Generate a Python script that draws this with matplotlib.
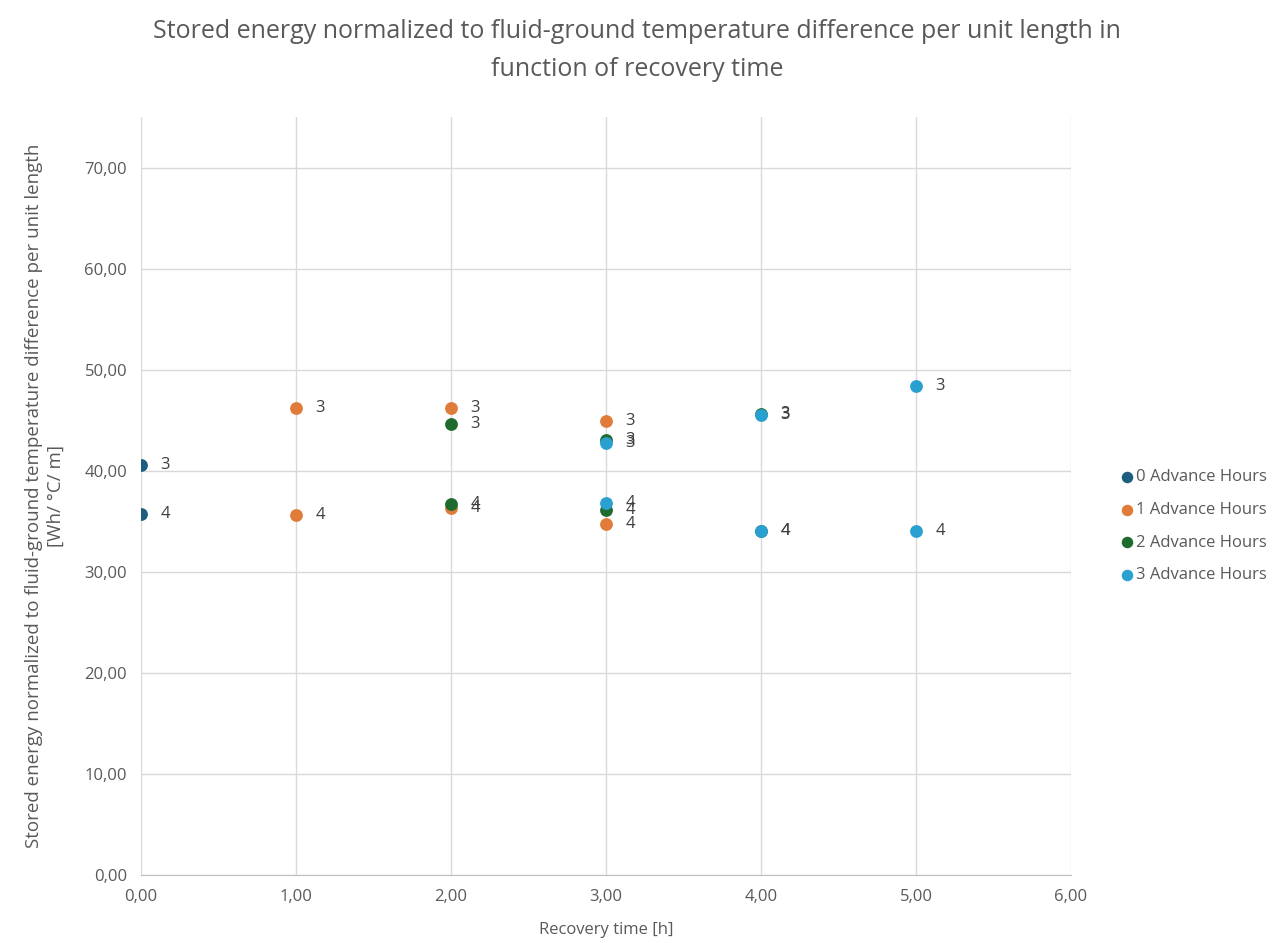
import matplotlib
matplotlib.use("Agg")
import matplotlib.pyplot as plt
from matplotlib.ticker import FuncFormatter

plt.rcParams["font.family"] = ["Open Sans", "DejaVu Sans"]

# Series: recovery time [h] and stored energy [Wh/°C/m], with point labels
series_names = ["0 Advance Hours", "1 Advance Hours", "2 Advance Hours", "3 Advance Hours"]
series_colors = ["#1d5d80", "#e07b39", "#1e6b2e", "#2aa0d0"]

x_adv0 = [0, 0]
y_adv0 = [40.6, 35.7]
lbl_adv0 = ["3", "4"]

x_adv1 = [1, 1, 2, 2, 3, 3]
y_adv1 = [46.2, 35.6, 46.2, 36.3, 44.9, 34.7]
lbl_adv1 = ["3", "4", "3", "4", "3", "4"]

x_adv2 = [2, 2, 3, 3, 4, 4]
y_adv2 = [44.6, 36.7, 43.0, 36.1, 45.6, 34.0]
lbl_adv2 = ["3", "4", "3", "4", "3", "4"]

x_adv3 = [3, 3, 4, 4, 5, 5]
y_adv3 = [42.7, 36.8, 45.5, 34.0, 48.4, 34.0]
lbl_adv3 = ["3", "4", "3", "4", "3", "4"]

xs = [x_adv0, x_adv1, x_adv2, x_adv3]
ys = [y_adv0, y_adv1, y_adv2, y_adv3]
labels = [lbl_adv0, lbl_adv1, lbl_adv2, lbl_adv3]

fig = plt.figure(figsize=(12.74, 9.43), dpi=100)
ax = fig.add_axes([141 / 1274, 1 - 875 / 943, (1071 - 141) / 1274, (875 - 117) / 943])

for name, color, x, y, lbls in zip(series_names, series_colors, xs, ys, labels):
    ax.scatter(x, y, s=85, color=color, label=name, zorder=3, linewidths=0)
    for xi, yi, t in zip(x, y, lbls):
        ax.annotate(t, (xi, yi), xytext=(14, 0), textcoords="offset points",
                    va="center", ha="left", fontsize=12, color="#404040", zorder=4)

ax.set_xlim(0, 6)
ax.set_ylim(0, 75)
ax.set_xticks(range(0, 7))
ax.set_yticks(range(0, 80, 10))
fmt = FuncFormatter(lambda v, _: f"{v:.2f}".replace(".", ","))
ax.xaxis.set_major_formatter(fmt)
ax.yaxis.set_major_formatter(fmt)
ax.tick_params(length=0, labelsize=12, labelcolor="#595959", pad=10)
ax.grid(True, color="#d9d9d9", linewidth=1)
ax.set_axisbelow(True)
for side in ["top", "right", "left"]:
    ax.spines[side].set_visible(False)
ax.spines["bottom"].set_color("#bfbfbf")

ax.set_xlabel("Recovery time [h]", fontsize=12, color="#595959", labelpad=12)
ax.set_ylabel("Stored energy normalized to fluid-ground temperature difference per unit length\n[Wh/ °C/ m]",
              fontsize=13.5, color="#595959", labelpad=14, linespacing=1.3)

fig.suptitle("Stored energy normalized to fluid-ground temperature difference per unit length in\nfunction of recovery time",
             x=0.5, y=0.98, fontsize=18, color="#595959", linespacing=1.7)

leg = ax.legend(loc="center left", bbox_to_anchor=(1.035, 0.46), frameon=False,
                fontsize=12, labelcolor="#595959", handletextpad=0.05,
                labelspacing=1.0, markerscale=0.9, handlelength=1.0)

fig.savefig("out.png", dpi=100)
